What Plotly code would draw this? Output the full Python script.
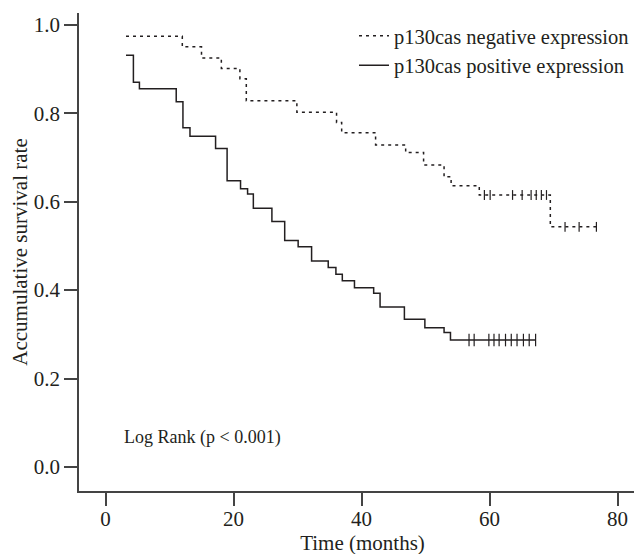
import numpy as np
import plotly.graph_objects as go

# Kaplan-Meier step data (months, survival)
neg_t = [3.2, 12.0, 15.0, 18.1, 21.0, 22.0, 29.9, 36.1, 36.9, 42.2, 46.9, 49.7, 52.9, 54.0, 58.4, 69.5, 76.7]
neg_s = [0.974, 0.950, 0.925, 0.901, 0.878, 0.828, 0.802, 0.779, 0.756, 0.728, 0.711, 0.683, 0.656, 0.636, 0.615, 0.543, 0.543]
neg_cens = [59.2, 60.1, 63.6, 65.1, 66.5, 67.3, 68.1, 68.9, 71.8, 74.0, 76.7]

pos_t = [3.2, 4.36, 5.3, 11.05, 12.1, 13.2, 17.2, 19.0, 21.1, 22.2, 23.1, 26.0, 28.0, 30.1, 32.2, 34.8,
         36.0, 37.0, 38.9, 41.9, 42.9, 46.7, 49.9, 52.9, 53.9, 67.2]
pos_s = [0.931, 0.870, 0.855, 0.826, 0.767, 0.748, 0.720, 0.647, 0.629, 0.617, 0.585, 0.555, 0.512, 0.498,
         0.466, 0.451, 0.436, 0.421, 0.405, 0.393, 0.362, 0.334, 0.315, 0.304, 0.287, 0.287]
pos_cens = [56.8, 57.6, 59.9, 60.7, 61.5, 62.5, 63.4, 64.3, 65.3, 66.2, 67.2]

x_ticks = [0, 20, 40, 60, 80]
y_ticks = [0.0, 0.2, 0.4, 0.6, 0.8, 1.0]
y_tick_text = ["0.0", "0.2", "0.4", "0.6", "0.8", "1.0"]

series_names = ["p130cas negative expression", "p130cas positive expression"]
annotation_text = "Log Rank (p < 0.001)"


def surv_at(times, surv, tc):
    idx = np.searchsorted(np.array(times), np.array(tc), side="right") - 1
    return [surv[i] for i in idx]


FONT = "Liberation Serif, Times New Roman, serif"
INK = "#231f20"

fig = go.Figure()
fig.add_trace(go.Scatter(x=neg_t, y=neg_s, mode="lines", line=dict(shape="hv", color=INK, width=1.5, dash="3px,4px"),
                         name=series_names[0]))
fig.add_trace(go.Scatter(x=pos_t, y=pos_s, mode="lines", line=dict(shape="hv", color=INK, width=1.5),
                         name=series_names[1]))
fig.add_trace(go.Scatter(x=neg_cens, y=surv_at(neg_t, neg_s, neg_cens), mode="markers", showlegend=False,
                         marker=dict(symbol="line-ns", size=7, line=dict(color=INK, width=1.2))))
fig.add_trace(go.Scatter(x=pos_cens, y=surv_at(pos_t, pos_s, pos_cens), mode="markers", showlegend=False,
                         marker=dict(symbol="line-ns", size=9, line=dict(color=INK, width=1.2))))

fig.add_annotation(x=2.6, y=0.066, xref="x", yref="y", text=annotation_text, showarrow=False,
                   xanchor="left", yanchor="middle", font=dict(family=FONT, size=18, color=INK))

fig.update_layout(
    width=642, height=554,
    margin=dict(l=71, r=4, t=5, b=71),
    plot_bgcolor="white", paper_bgcolor="white",
    font=dict(family=FONT, size=21, color=INK),
    legend=dict(x=0.485, y=0.994, xanchor="left", yanchor="top", bgcolor="rgba(0,0,0,0)",
                font=dict(family=FONT, size=20.5, color=INK), itemwidth=30, tracegroupgap=0),
    showlegend=True,
)
fig.update_xaxes(range=[-4.14, 84.45], tickvals=x_ticks, ticks="outside", ticklen=13, tickwidth=1.5,
                 tickcolor="#444", showline=True, linecolor="#444", linewidth=1.5, showgrid=False, zeroline=False,
                 tickfont=dict(family=FONT, size=21, color=INK), ticklabelstandoff=-5,
                 title=dict(text="Time (months)", font=dict(family=FONT, size=21, color=INK), standoff=0))
fig.update_yaxes(range=[-0.0543, 1.0265], tickvals=y_ticks, ticktext=y_tick_text, ticks="outside", ticklen=13,
                 tickwidth=1.5, tickcolor="#444", showline=True, linecolor="#444", linewidth=1.5, showgrid=False,
                 zeroline=False, tickfont=dict(family=FONT, size=21, color=INK),
                 title=dict(text="Accumulative survival rate", font=dict(family=FONT, size=21, color=INK), standoff=6))

fig.write_html("out.html")
